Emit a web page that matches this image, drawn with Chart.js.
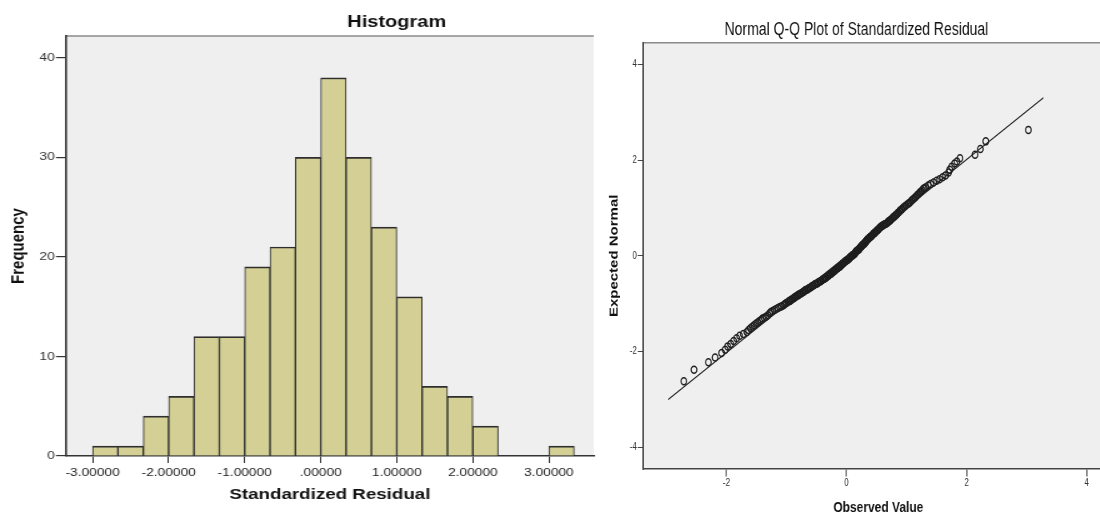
<!DOCTYPE html>
<html><head><meta charset="utf-8">
<script src="https://cdn.jsdelivr.net/npm/chart.js@4.4.1/dist/chart.umd.min.js"></script>
<style>
html,body{margin:0;padding:0;background:#fff;overflow:hidden;width:1100px;height:514px;position:relative;}
#hist{position:absolute;left:0;top:0;transform:scaleX(1.25);transform-origin:0 0;}
#qq{position:absolute;left:600px;top:0;transform:scaleX(0.8);transform-origin:0 0;}
</style></head><body>
<canvas id="hist" width="480" height="514"></canvas>
<canvas id="qq" width="675" height="530"></canvas>
<script>
// ---------- Histogram data ----------
const binWidth = 1/3;
const binStart = [-3.0,-2.6667,-2.3333,-2.0,-1.6667,-1.3333,-1.0,-0.6667,-0.3333,0.0,0.3333,0.6667,1.0,1.3333,1.6667,2.0,3.0];
const binCounts = [1,1,4,6,12,12,19,21,30,38,30,23,16,7,6,3,1];
const histXTicks = [-3,-2,-1,0,1,2,3];
const histXLabels = ['-3.00000','-2.00000','-1.00000','.00000','1.00000','2.00000','3.00000'];
const histYTicks = [0,10,20,30,40];

// ---------- Q-Q data ----------
const qqObserved = [
 -2.71,-2.54,-2.30,-2.19,-2.08,-2.02,-1.98,-1.93,-1.88,-1.83,-1.78,-1.72,
 -1.66,-1.63,-1.60,-1.57,-1.54,-1.51,-1.48,-1.45,-1.42,-1.40,-1.37,-1.34,
 -1.31,-1.28,-1.26,-1.23,-1.20,-1.17,-1.14,-1.11,-1.08,-1.05,-1.03,-1.01,
 -0.98,-0.96,-0.94,-0.93,-0.91,-0.89,-0.87,-0.86,-0.84,-0.82,-0.80,-0.79,-0.77,-0.75,-0.73,-0.72,-0.70,-0.69,-0.67,
 -0.65,-0.63,-0.62,-0.60,-0.58,-0.57,-0.55,-0.53,-0.52,-0.50,-0.48,-0.47,-0.45,-0.43,-0.42,-0.40,-0.39,-0.37,-0.36,-0.35,-0.34,
 -0.32,-0.31,-0.30,-0.29,-0.28,-0.27,-0.25,-0.24,-0.23,-0.22,-0.21,-0.20,-0.19,-0.18,-0.16,-0.15,-0.14,-0.13,-0.12,-0.11,-0.10,-0.09,-0.08,-0.07,-0.06,-0.05,-0.04,-0.03,-0.02,-0.01,
 0.01,0.02,0.03,0.04,0.05,0.06,0.07,0.08,0.09,0.10,0.11,0.12,0.13,0.14,0.15,0.15,0.16,0.17,0.18,0.19,0.20,0.21,0.21,0.22,0.23,0.24,0.25,0.26,0.26,0.27,0.28,0.29,0.30,0.30,0.31,0.32,0.32,0.33,
 0.34,0.35,0.36,0.37,0.38,0.39,0.40,0.41,0.42,0.43,0.44,0.45,0.46,0.47,0.48,0.49,0.50,0.51,0.52,0.53,0.54,0.55,0.56,0.57,0.58,0.60,0.61,0.62,0.64,0.66,
 0.68,0.69,0.70,0.72,0.73,0.74,0.76,0.77,0.78,0.80,0.81,0.82,0.84,0.85,0.86,0.88,0.89,0.90,0.92,0.93,0.95,0.97,0.99,
 1.02,1.04,1.06,1.08,1.10,1.12,1.14,1.16,1.18,1.20,1.22,1.24,1.26,1.28,1.30,1.32,
 1.36,1.40,1.45,1.50,1.55,1.60,1.65,
 1.70,1.72,1.75,1.80,1.84,1.89,
 2.14,2.23,2.32,
 3.03
];
const qqExpected = [
 -2.62,-2.38,-2.22,-2.12,-2.03,-1.96,-1.89,-1.84,-1.78,-1.72,-1.67,-1.63,
 -1.59,-1.55,-1.51,-1.48,-1.45,-1.42,-1.39,-1.36,-1.34,-1.31,-1.29,-1.27,
 -1.24,-1.20,-1.17,-1.15,-1.13,-1.11,-1.09,-1.07,-1.05,-1.03,-1.01,-0.99,
 -0.97,-0.95,-0.94,-0.92,-0.91,-0.89,-0.88,-0.86,-0.85,-0.83,-0.82,-0.80,-0.79,-0.78,-0.76,-0.75,-0.74,-0.72,-0.71,
 -0.70,-0.68,-0.67,-0.66,-0.64,-0.63,-0.62,-0.60,-0.59,-0.58,-0.57,-0.55,-0.54,-0.53,-0.52,-0.50,-0.49,-0.48,-0.47,-0.46,-0.45,
 -0.43,-0.42,-0.41,-0.40,-0.39,-0.38,-0.37,-0.35,-0.34,-0.33,-0.32,-0.31,-0.30,-0.29,-0.27,-0.26,-0.25,-0.24,-0.23,-0.22,-0.21,-0.20,-0.18,-0.17,-0.16,-0.15,-0.14,-0.13,-0.12,-0.10,
 -0.09,-0.08,-0.07,-0.06,-0.05,-0.03,-0.02,-0.01,0.00,0.01,0.02,0.03,0.04,0.05,0.07,0.08,0.09,0.10,0.11,0.12,0.13,0.14,0.15,0.16,0.18,0.19,0.20,0.21,0.22,0.23,0.24,0.25,0.26,0.27,0.28,0.29,0.30,0.31,
 0.33,0.34,0.35,0.36,0.38,0.39,0.40,0.41,0.42,0.43,0.45,0.46,0.47,0.48,0.49,0.51,0.52,0.53,0.54,0.55,0.57,0.58,0.59,0.60,0.62,0.63,0.64,0.65,0.66,0.67,
 0.69,0.70,0.72,0.73,0.75,0.76,0.78,0.79,0.81,0.82,0.84,0.85,0.87,0.89,0.90,0.92,0.94,0.95,0.97,0.99,1.01,1.03,1.05,
 1.08,1.10,1.12,1.15,1.17,1.19,1.22,1.24,1.27,1.29,1.32,1.34,1.37,1.40,1.41,1.43,
 1.47,1.50,1.53,1.57,1.60,1.64,1.68,
 1.74,1.80,1.86,1.93,1.97,2.04,
 2.11,2.23,2.39,
 2.63
];
const qqLineX = [-2.97, 3.28];
const qqLineY = [-3.00, 3.30];
const qqXTicks = [-2,0,2,4];
const qqYTicks = [-4,-2,0,2,4];

// ---------- shared styling ----------
const FONT = "'Liberation Sans', Arial, sans-serif";

const framePlugin = {
  id: 'frame',
  beforeDraw(chart) {
    const {ctx, chartArea: a} = chart;
    ctx.save();
    ctx.fillStyle = '#efefef';
    ctx.fillRect(a.left, a.top, a.right - a.left, a.bottom - a.top);
    ctx.strokeStyle = '#8a8a8a';
    ctx.lineWidth = 1.5;
    ctx.beginPath();
    ctx.moveTo(a.left, a.top);
    ctx.lineTo(a.right, a.top);
    ctx.stroke();
    ctx.restore();
  }
};
function titlePlugin(text, x, y, font) {
  return {
    id: 'fixedTitle',
    afterDraw(chart) {
      const ctx = chart.ctx;
      ctx.save();
      ctx.font = font;
      ctx.fillStyle = '#111';
      ctx.textAlign = 'center';
      ctx.textBaseline = 'middle';
      ctx.fillText(text, x, y);
      ctx.restore();
    }
  };
}

// ---------- Histogram ----------
new Chart(document.getElementById('hist'), {
  type: 'bar',
  data: {
    datasets: [{
      data: binStart.map((s, i) => ({x: s + binWidth / 2, y: binCounts[i]})),
      backgroundColor: '#d3cf95',
      borderColor: '#2e2e2e',
      borderWidth: {top: 1.7, left: 1, right: 1, bottom: 0},
      borderSkipped: false,
      barPercentage: 1,
      categoryPercentage: 1
    }]
  },
  options: {
    responsive: false,
    devicePixelRatio: 1,
    animation: false,
    events: [],
    layout: {padding: {left: 0, right: 5, top: 36, bottom: 0}},
    plugins: {legend: {display: false}, tooltip: {enabled: false}},
    scales: {
      x: {
        type: 'linear',
        offset: false,
        min: -3.35, max: 3.59,
        afterBuildTicks: s => { s.ticks = histXTicks.map(v => ({value: v})); },
        afterFit: s => { s.height = 58; },
        grid: {offset: false, drawOnChartArea: false, drawTicks: true, tickLength: 7, color: '#333', lineWidth: 1},
        border: {display: true, color: '#333', width: 1.6},
        ticks: {
          callback: (v, i) => histXLabels[i],
          font: {family: FONT, size: 11}, color: '#222', padding: 3,
          maxRotation: 0, autoSkip: false
        },
        title: {display: true, text: 'Standardized Residual',
          font: {family: FONT, size: 15, weight: 'bold'}, color: '#111',
          padding: {top: 0, bottom: 10}}
      },
      y: {
        min: 0, max: 42.2,
        afterBuildTicks: s => { s.ticks = histYTicks.map(v => ({value: v})); },
        afterFit: s => { s.width = 52.8; },
        grid: {drawOnChartArea: false, drawTicks: true, tickLength: 8, color: '#333', lineWidth: 1.2},
        border: {display: true, color: '#333', width: 1.6},
        ticks: {font: {family: FONT, size: 11}, color: '#333', padding: 1},
        title: {display: true, text: 'Frequency',
          font: {family: FONT, size: 15, weight: 'bold'}, color: '#111',
          padding: {top: 5.4, bottom: 0}}
      }
    }
  },
  plugins: [framePlugin, titlePlugin('Histogram', 317.4, 23, "bold 16px " + FONT)]
});

// ---------- Normal Q-Q Plot ----------
new Chart(document.getElementById('qq'), {
  type: 'scatter',
  data: {
    datasets: [{
      data: qqObserved.map((x, i) => ({x: x, y: qqExpected[i]})),
      pointRadius: 3.5,
      pointBorderWidth: 1.5,
      pointBorderColor: '#1e1e1e',
      pointBackgroundColor: 'rgba(0,0,0,0)',
      showLine: false,
      order: 2
    }, {
      data: qqLineX.map((x, i) => ({x: x, y: qqLineY[i]})),
      showLine: true,
      borderColor: '#222',
      borderWidth: 1.3,
      pointRadius: 0,
      fill: false,
      order: 1
    }]
  },
  options: {
    responsive: false,
    devicePixelRatio: 1,
    animation: false,
    events: [],
    layout: {padding: {left: 0, right: 32.9, top: 42.7, bottom: 0}},
    plugins: {legend: {display: false}, tooltip: {enabled: false}},
    scales: {
      x: {
        type: 'linear',
        min: -3.39, max: 4.45,
        afterBuildTicks: s => { s.ticks = qqXTicks.map(v => ({value: v})); },
        afterFit: s => { s.height = 61; },
        grid: {drawOnChartArea: false, drawTicks: true, tickLength: 7.5, color: '#444', lineWidth: 1.4},
        border: {display: true, color: '#444', width: 1.6},
        ticks: {font: {family: FONT, size: 10}, color: '#333', padding: 1, maxRotation: 0, autoSkip: false},
        title: {display: true, text: 'Observed Value',
          font: {family: FONT, size: 15, weight: 'bold'}, color: '#111',
          padding: {top: 0, bottom: 13}}
      },
      y: {
        min: -4.45, max: 4.45,
        afterBuildTicks: s => { s.ticks = qqYTicks.map(v => ({value: v})); },
        afterFit: s => { s.width = 53.75; },
        grid: {drawOnChartArea: false, drawTicks: true, tickLength: 6.6, color: '#444', lineWidth: 1},
        border: {display: true, color: '#444', width: 1.9},
        ticks: {font: {family: FONT, size: 10}, color: '#333', padding: 1},
        title: {display: true, text: 'Expected Normal',
          font: {family: FONT, size: 15, weight: 'bold'}, color: '#111',
          padding: {top: 8.5, bottom: 0}}
      }
    }
  },
  plugins: [framePlugin, titlePlugin('Normal Q-Q Plot of Standardized Residual', 320.6, 30, "17.5px " + FONT)]
});
</script>
</body></html>
